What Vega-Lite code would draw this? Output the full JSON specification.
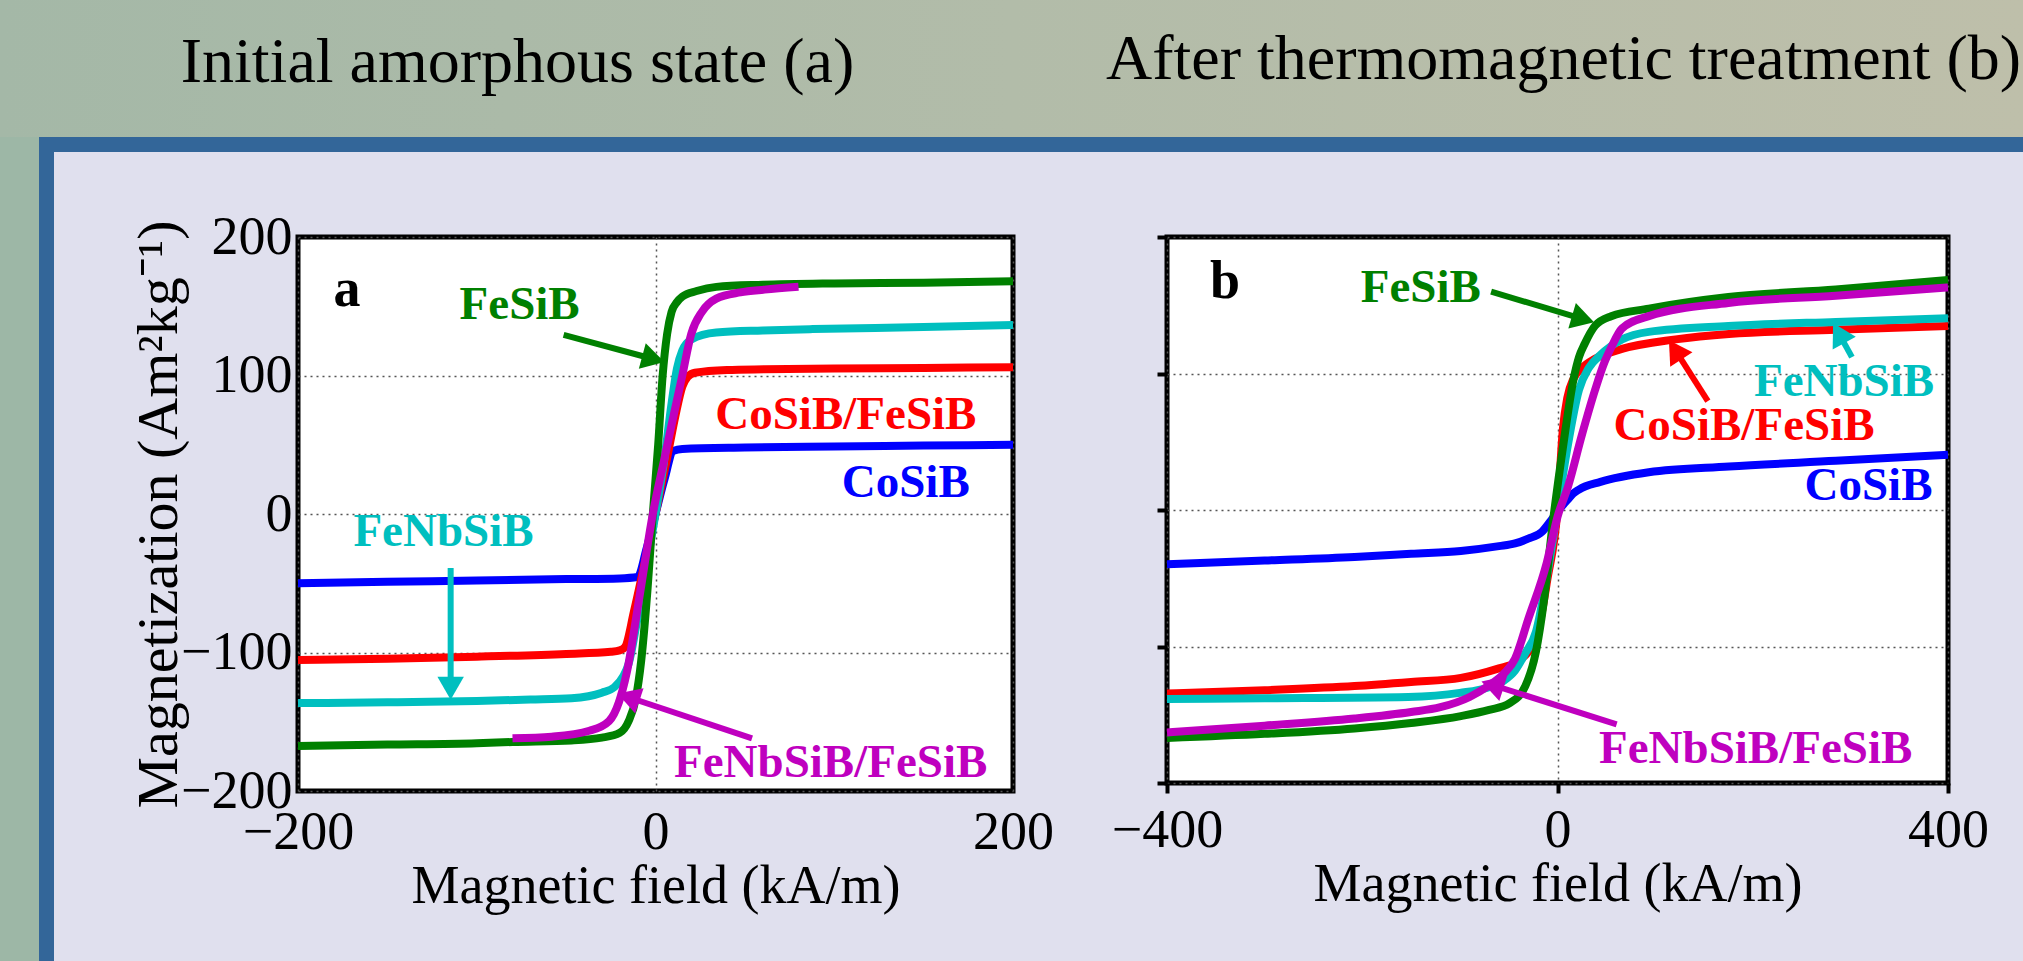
{
  "$schema": "https://vega.github.io/schema/vega-lite/v6.json",
  "padding": 0,
  "background": "#e0e0ee",
  "config": {
    "view": {"stroke": null},
    "font": "Liberation Serif",
    "axis": {"labelFont": "Liberation Serif", "titleFont": "Liberation Serif", "labelColor": "black", "titleColor": "black", "titleFontWeight": "normal", "labelFontSize": 54, "titleFontSize": 54, "domain": false, "gridColor": "#555555", "gridDash": [2, 4], "gridWidth": 1.5, "gridOpacity": 1, "labelFlush": false, "labelOverlap": false}
  },
  "datasets": {
    "curvesA": [
      {"s":"CoSiB","H":-200,"M":-50},{"s":"CoSiB","H":-150,"M":-49},{"s":"CoSiB","H":-100,"M":-48},{"s":"CoSiB","H":-50,"M":-47},{"s":"CoSiB","H":-20,"M":-46.5},{"s":"CoSiB","H":-10,"M":-45.5},{"s":"CoSiB","H":-5,"M":-25},{"s":"CoSiB","H":0,"M":0},{"s":"CoSiB","H":5,"M":25},{"s":"CoSiB","H":10,"M":45.5},{"s":"CoSiB","H":15,"M":47},{"s":"CoSiB","H":50,"M":48},{"s":"CoSiB","H":100,"M":48.8},{"s":"CoSiB","H":150,"M":49.4},{"s":"CoSiB","H":200,"M":50},
      {"s":"CoSiB/FeSiB","H":-200,"M":-105.5},{"s":"CoSiB/FeSiB","H":-150,"M":-104.5},{"s":"CoSiB/FeSiB","H":-100,"M":-103},{"s":"CoSiB/FeSiB","H":-50,"M":-101},{"s":"CoSiB/FeSiB","H":-25,"M":-99.5},{"s":"CoSiB/FeSiB","H":-20,"M":-98.5},{"s":"CoSiB/FeSiB","H":-17,"M":-96},{"s":"CoSiB/FeSiB","H":-12,"M":-70},{"s":"CoSiB/FeSiB","H":-6,"M":-35},{"s":"CoSiB/FeSiB","H":0,"M":0},{"s":"CoSiB/FeSiB","H":6,"M":37},{"s":"CoSiB/FeSiB","H":11,"M":70},{"s":"CoSiB/FeSiB","H":15,"M":92},{"s":"CoSiB/FeSiB","H":18,"M":99},{"s":"CoSiB/FeSiB","H":22,"M":102},{"s":"CoSiB/FeSiB","H":40,"M":104},{"s":"CoSiB/FeSiB","H":61,"M":104.5},{"s":"CoSiB/FeSiB","H":100,"M":105},{"s":"CoSiB/FeSiB","H":150,"M":105.5},{"s":"CoSiB/FeSiB","H":200,"M":106},
      {"s":"FeNbSiB","H":-200,"M":-136.5},{"s":"FeNbSiB","H":-150,"M":-136},{"s":"FeNbSiB","H":-100,"M":-135},{"s":"FeNbSiB","H":-70,"M":-134},{"s":"FeNbSiB","H":-47,"M":-133},{"s":"FeNbSiB","H":-30,"M":-129},{"s":"FeNbSiB","H":-23,"M":-125},{"s":"FeNbSiB","H":-18,"M":-117},{"s":"FeNbSiB","H":-15,"M":-108},{"s":"FeNbSiB","H":-10,"M":-75},{"s":"FeNbSiB","H":-5,"M":-37},{"s":"FeNbSiB","H":0,"M":0},{"s":"FeNbSiB","H":5,"M":40},{"s":"FeNbSiB","H":9,"M":80},{"s":"FeNbSiB","H":12,"M":105},{"s":"FeNbSiB","H":15,"M":118},{"s":"FeNbSiB","H":20,"M":126},{"s":"FeNbSiB","H":34,"M":131},{"s":"FeNbSiB","H":60,"M":132.5},{"s":"FeNbSiB","H":88,"M":133.5},{"s":"FeNbSiB","H":150,"M":135},{"s":"FeNbSiB","H":200,"M":136.5},
      {"s":"FeSiB","H":-200,"M":-167.5},{"s":"FeSiB","H":-150,"M":-166.5},{"s":"FeSiB","H":-100,"M":-165.5},{"s":"FeSiB","H":-80,"M":-164.6},{"s":"FeSiB","H":-47,"M":-163.5},{"s":"FeSiB","H":-30,"M":-161.5},{"s":"FeSiB","H":-20,"M":-158},{"s":"FeSiB","H":-15,"M":-149.5},{"s":"FeSiB","H":-11,"M":-133},{"s":"FeSiB","H":-8,"M":-106},{"s":"FeSiB","H":-4.5,"M":-55},{"s":"FeSiB","H":-1.5,"M":0},{"s":"FeSiB","H":1.5,"M":50},{"s":"FeSiB","H":4,"M":100},{"s":"FeSiB","H":6.5,"M":130},{"s":"FeSiB","H":9,"M":146},{"s":"FeSiB","H":12,"M":153},{"s":"FeSiB","H":15,"M":157},{"s":"FeSiB","H":23,"M":161},{"s":"FeSiB","H":34,"M":164},{"s":"FeSiB","H":60,"M":165.5},{"s":"FeSiB","H":100,"M":166.5},{"s":"FeSiB","H":150,"M":167},{"s":"FeSiB","H":200,"M":168},
      {"s":"FeNbSiB/FeSiB","H":-80,"M":-162},{"s":"FeNbSiB/FeSiB","H":-58,"M":-160.8},{"s":"FeNbSiB/FeSiB","H":-37,"M":-156.5},{"s":"FeNbSiB/FeSiB","H":-26,"M":-149.5},{"s":"FeNbSiB/FeSiB","H":-20.5,"M":-136},{"s":"FeNbSiB/FeSiB","H":-16,"M":-114},{"s":"FeNbSiB/FeSiB","H":-9,"M":-60},{"s":"FeNbSiB/FeSiB","H":-1.5,"M":0},{"s":"FeNbSiB/FeSiB","H":5,"M":40},{"s":"FeNbSiB/FeSiB","H":9.6,"M":68},{"s":"FeNbSiB/FeSiB","H":15,"M":100},{"s":"FeNbSiB/FeSiB","H":20,"M":130},{"s":"FeNbSiB/FeSiB","H":26,"M":146},{"s":"FeNbSiB/FeSiB","H":34,"M":155.5},{"s":"FeNbSiB/FeSiB","H":47.5,"M":160},{"s":"FeNbSiB/FeSiB","H":61,"M":162},{"s":"FeNbSiB/FeSiB","H":80,"M":164}
    ],
    "curvesB": [
      {"s":"CoSiB","H":-400,"M":-39.7},{"s":"CoSiB","H":-300,"M":-37},{"s":"CoSiB","H":-208,"M":-34.4},{"s":"CoSiB","H":-150,"M":-32},{"s":"CoSiB","H":-99,"M":-30},{"s":"CoSiB","H":-60,"M":-26.5},{"s":"CoSiB","H":-43.5,"M":-24.5},{"s":"CoSiB","H":-30,"M":-21},{"s":"CoSiB","H":-16,"M":-16},{"s":"CoSiB","H":-8,"M":-9},{"s":"CoSiB","H":0,"M":-1},{"s":"CoSiB","H":6,"M":4},{"s":"CoSiB","H":11,"M":8},{"s":"CoSiB","H":16,"M":12},{"s":"CoSiB","H":22,"M":15},{"s":"CoSiB","H":44,"M":20.6},{"s":"CoSiB","H":93.5,"M":27.6},{"s":"CoSiB","H":175.6,"M":31.8},{"s":"CoSiB","H":285,"M":36},{"s":"CoSiB","H":400,"M":40.5},
      {"s":"CoSiB/FeSiB","H":-400,"M":-134.5},{"s":"CoSiB/FeSiB","H":-300,"M":-132},{"s":"CoSiB/FeSiB","H":-208,"M":-129},{"s":"CoSiB/FeSiB","H":-150,"M":-126},{"s":"CoSiB/FeSiB","H":-99,"M":-123},{"s":"CoSiB/FeSiB","H":-60,"M":-116},{"s":"CoSiB/FeSiB","H":-43.5,"M":-112},{"s":"CoSiB/FeSiB","H":-30,"M":-104},{"s":"CoSiB/FeSiB","H":-22,"M":-95},{"s":"CoSiB/FeSiB","H":-16,"M":-75},{"s":"CoSiB/FeSiB","H":-10.8,"M":-52.7},{"s":"CoSiB/FeSiB","H":0,"M":0},{"s":"CoSiB/FeSiB","H":5.6,"M":60},{"s":"CoSiB/FeSiB","H":10,"M":82},{"s":"CoSiB/FeSiB","H":16.7,"M":96.7},{"s":"CoSiB/FeSiB","H":25,"M":104},{"s":"CoSiB/FeSiB","H":38.5,"M":110.8},{"s":"CoSiB/FeSiB","H":66,"M":118},{"s":"CoSiB/FeSiB","H":121,"M":125},{"s":"CoSiB/FeSiB","H":175.6,"M":129},{"s":"CoSiB/FeSiB","H":285,"M":132},{"s":"CoSiB/FeSiB","H":400,"M":134.8},
      {"s":"FeNbSiB","H":-400,"M":-138.5},{"s":"FeNbSiB","H":-300,"M":-138},{"s":"FeNbSiB","H":-153,"M":-137},{"s":"FeNbSiB","H":-100,"M":-134},{"s":"FeNbSiB","H":-71,"M":-130},{"s":"FeNbSiB","H":-55,"M":-125},{"s":"FeNbSiB","H":-43.5,"M":-117.6},{"s":"FeNbSiB","H":-33,"M":-105},{"s":"FeNbSiB","H":-22,"M":-89},{"s":"FeNbSiB","H":-10,"M":-45},{"s":"FeNbSiB","H":0,"M":0},{"s":"FeNbSiB","H":10,"M":45},{"s":"FeNbSiB","H":22,"M":88},{"s":"FeNbSiB","H":32,"M":104},{"s":"FeNbSiB","H":44,"M":113.6},{"s":"FeNbSiB","H":66,"M":124.9},{"s":"FeNbSiB","H":93.5,"M":130.5},{"s":"FeNbSiB","H":175,"M":134.8},{"s":"FeNbSiB","H":285,"M":137.8},{"s":"FeNbSiB","H":400,"M":140.4},
      {"s":"FeSiB","H":-400,"M":-167},{"s":"FeSiB","H":-300,"M":-164},{"s":"FeSiB","H":-208,"M":-160},{"s":"FeSiB","H":-150,"M":-156},{"s":"FeSiB","H":-99,"M":-151},{"s":"FeSiB","H":-70,"M":-146.5},{"s":"FeSiB","H":-49,"M":-141.5},{"s":"FeSiB","H":-33,"M":-129},{"s":"FeSiB","H":-22,"M":-103.5},{"s":"FeSiB","H":-14,"M":-67},{"s":"FeSiB","H":-5,"M":-10.5},{"s":"FeSiB","H":5.6,"M":46},{"s":"FeSiB","H":16.7,"M":96.7},{"s":"FeSiB","H":22,"M":112},{"s":"FeSiB","H":28,"M":122},{"s":"FeSiB","H":38.5,"M":135},{"s":"FeSiB","H":55,"M":142},{"s":"FeSiB","H":93.5,"M":147.5},{"s":"FeSiB","H":175,"M":156},{"s":"FeSiB","H":285,"M":161.5},{"s":"FeSiB","H":400,"M":168.5},
      {"s":"FeNbSiB/FeSiB","H":-400,"M":-163},{"s":"FeNbSiB/FeSiB","H":-300,"M":-158},{"s":"FeNbSiB/FeSiB","H":-208,"M":-152.8},{"s":"FeNbSiB/FeSiB","H":-150,"M":-148},{"s":"FeNbSiB/FeSiB","H":-120,"M":-144.5},{"s":"FeNbSiB/FeSiB","H":-90,"M":-137},{"s":"FeNbSiB/FeSiB","H":-71,"M":-129},{"s":"FeNbSiB/FeSiB","H":-55,"M":-120},{"s":"FeNbSiB/FeSiB","H":-43.5,"M":-109},{"s":"FeNbSiB/FeSiB","H":-30,"M":-80},{"s":"FeNbSiB/FeSiB","H":-11,"M":-38.6},{"s":"FeNbSiB/FeSiB","H":0,"M":-5},{"s":"FeNbSiB/FeSiB","H":11,"M":17.7},{"s":"FeNbSiB/FeSiB","H":25,"M":55},{"s":"FeNbSiB/FeSiB","H":38.5,"M":88},{"s":"FeNbSiB/FeSiB","H":48,"M":108},{"s":"FeNbSiB/FeSiB","H":55,"M":119},{"s":"FeNbSiB/FeSiB","H":66,"M":133},{"s":"FeNbSiB/FeSiB","H":93.5,"M":142},{"s":"FeNbSiB/FeSiB","H":175,"M":151.7},{"s":"FeNbSiB/FeSiB","H":285,"M":157},{"s":"FeNbSiB/FeSiB","H":400,"M":163}
    ],
    "labelsA": [
      {"s":"FeSiB","t":"FeSiB","H":-76,"M":151},
      {"s":"CoSiB/FeSiB","t":"CoSiB/FeSiB","H":106.5,"M":71.5},
      {"s":"CoSiB","t":"CoSiB","H":140,"M":22.4},
      {"s":"FeNbSiB","t":"FeNbSiB","H":-118.6,"M":-13},
      {"s":"FeNbSiB/FeSiB","t":"FeNbSiB/FeSiB","H":98,"M":-180}
    ],
    "labelsB": [
      {"s":"FeSiB","t":"FeSiB","H":-140,"M":163},
      {"s":"FeNbSiB","t":"FeNbSiB","H":293.5,"M":93.9},
      {"s":"CoSiB/FeSiB","t":"CoSiB/FeSiB","H":191,"M":61.4},
      {"s":"CoSiB","t":"CoSiB","H":318.6,"M":17.7},
      {"s":"FeNbSiB/FeSiB","t":"FeNbSiB/FeSiB","H":203,"M":-175}
    ],
    "arrowsA": [
      {"s":"FeSiB","H":-51.4,"M":129.4,"H2":-1.2,"M2":111.9},
      {"s":"FeNbSiB","H":-114.6,"M":-39,"H2":-114.6,"M2":-125.8},
      {"s":"FeNbSiB/FeSiB","H":54,"M":-162,"H2":-15.1,"M2":-132.3}
    ],
    "arrowsB": [
      {"s":"FeSiB","H":-68,"M":160,"H2":26.2,"M2":139.9},
      {"s":"FeNbSiB","H":301.6,"M":112,"H2":288,"M2":129.6},
      {"s":"CoSiB/FeSiB","H":154,"M":79.8,"H2":120.5,"M2":117.3},
      {"s":"FeNbSiB/FeSiB","H":60.6,"M":-157,"H2":-66.7,"M2":-128.2}
    ]
  },
  "vconcat": [
    {
      "width": 2023, "height": 137,
      "data": {"values": [{"part": "header"}]},
      "mark": {"type": "rect", "color": {"gradient": "linear", "x1": 0, "y1": 0, "x2": 1, "y2": 0, "stops": [{"offset": 0, "color": "#a4b8a7"}, {"offset": 0.5, "color": "#b2bca9"}, {"offset": 1, "color": "#bebfaa"}]}},
      "encoding": {}
    },
    {
      "hconcat": [
        {"width": 39, "height": 824, "data": {"values": [{"part": "left"}]}, "mark": {"type": "rect", "color": "#9db7a6"}, "encoding": {}},
        {"width": 15, "height": 824, "data": {"values": [{"part": "frame"}]}, "mark": {"type": "rect", "color": "#336699"}, "encoding": {}},
        {
          "vconcat": [
            {"width": 1969, "height": 15, "data": {"values": [{"part": "frame"}]}, "mark": {"type": "rect", "color": "#336699"}, "encoding": {}},
            {"width": 1969, "height": 85, "data": {"values": [{"part": "gap"}]}, "mark": {"type": "rect", "opacity": 0}, "encoding": {}},
            {
              "hconcat": [
                {"width": 90, "height": 554, "data": {"values": [{"part": "gap"}]}, "mark": {"type": "rect", "opacity": 0}, "encoding": {}},
                {
                  "width": 715, "height": 554,
                  "view": {"stroke": "black", "strokeWidth": 5, "fill": "white"},
                  "title": {"text": "Initial amorphous state (a)", "anchor": "middle", "frame": "group", "dx": -138, "offset": 64, "baseline": "alphabetic", "fontSize": 64, "font": "Liberation Serif", "fontWeight": "normal", "color": "black"},
                  "encoding": {
                    "x": {"field": "H", "type": "quantitative", "scale": {"domain": [-200, 200], "nice": false, "zero": false}, "axis": {"title": "Magnetic field (kA/m)", "values": [-200, 0, 200], "grid": true, "ticks": false, "labelPadding": 14, "titlePadding": 0}},
                    "y": {"field": "M", "type": "quantitative", "scale": {"domain": [-200, 200], "nice": false, "zero": false}, "axis": {"title": "Magnetization (Am²kg⁻¹)", "titleFontSize": 58, "values": [-200, -100, 0, 100, 200], "grid": true, "ticks": false, "labelPadding": 6, "titlePadding": -8}}
                  },
                  "layer": [
                    {
                      "data": {"name": "curvesA"},
                      "mark": {"type": "line", "strokeWidth": 8, "interpolate": "monotone"},
                      "encoding": {"color": {"field": "s", "type": "nominal", "legend": null, "scale": {"domain": ["CoSiB", "CoSiB/FeSiB", "FeNbSiB", "FeSiB", "FeNbSiB/FeSiB"], "range": ["#0000ff", "#ff0000", "#00bfbf", "#008000", "#bf00bf"]}}}
                    },
                    {
                      "data": {"name": "arrowsA"},
                      "mark": {"type": "rule", "strokeWidth": 6},
                      "encoding": {"x2": {"field": "H2"}, "y2": {"field": "M2"}, "color": {"field": "s", "type": "nominal", "legend": null}}
                    },
                    {
                      "data": {"name": "arrowsA"},
                      "transform": [{"calculate": "atan2((datum.H2-datum.H)*1.7875, (datum.M2-datum.M)*1.385)*180/PI", "as": "ang"}],
                      "mark": {"type": "point", "shape": "triangle-up", "filled": true, "opacity": 1, "size": 700},
                      "encoding": {"x": {"field": "H2", "type": "quantitative"}, "y": {"field": "M2", "type": "quantitative"}, "angle": {"field": "ang", "type": "quantitative", "scale": null}, "color": {"field": "s", "type": "nominal", "legend": null}}
                    },
                    {
                      "data": {"name": "labelsA"},
                      "mark": {"type": "text", "font": "Liberation Serif", "fontWeight": "bold", "fontSize": 47, "align": "center", "baseline": "middle"},
                      "encoding": {"text": {"field": "t"}, "color": {"field": "s", "type": "nominal", "legend": null}}
                    },
                    {
                      "data": {"values": [{"t": "a", "H": -172.6, "M": 162}]},
                      "mark": {"type": "text", "font": "Liberation Serif", "fontWeight": "bold", "fontSize": 54, "align": "center", "baseline": "middle", "color": "black"},
                      "encoding": {"text": {"field": "t"}}
                    }
                  ]
                },
                {
                  "width": 781, "height": 546,
                  "view": {"stroke": "black", "strokeWidth": 5, "fill": "white"},
                  "title": {"text": "After thermomagnetic treatment (b)", "anchor": "middle", "frame": "group", "dx": 6, "offset": 92, "baseline": "alphabetic", "fontSize": 64, "font": "Liberation Serif", "fontWeight": "normal", "color": "black"},
                  "encoding": {
                    "x": {"field": "H", "type": "quantitative", "scale": {"domain": [-400, 400], "nice": false, "zero": false}, "axis": {"title": "Magnetic field (kA/m)", "values": [-400, 0, 400], "grid": true, "ticks": true, "tickSize": 10, "tickWidth": 4, "tickColor": "black", "labelPadding": 10, "titlePadding": 0}},
                    "y": {"field": "M", "type": "quantitative", "scale": {"domain": [-200, 200], "nice": false, "zero": false}, "axis": {"title": null, "values": [-200, -100, 0, 100, 200], "grid": true, "labels": false, "ticks": true, "tickSize": 10, "tickWidth": 4, "tickColor": "black"}}
                  },
                  "layer": [
                    {
                      "data": {"name": "curvesB"},
                      "mark": {"type": "line", "strokeWidth": 8, "interpolate": "monotone"},
                      "encoding": {"color": {"field": "s", "type": "nominal", "legend": null, "scale": {"domain": ["CoSiB", "CoSiB/FeSiB", "FeNbSiB", "FeSiB", "FeNbSiB/FeSiB"], "range": ["#0000ff", "#ff0000", "#00bfbf", "#008000", "#bf00bf"]}}}
                    },
                    {
                      "data": {"name": "arrowsB"},
                      "mark": {"type": "rule", "strokeWidth": 6},
                      "encoding": {"x2": {"field": "H2"}, "y2": {"field": "M2"}, "color": {"field": "s", "type": "nominal", "legend": null}}
                    },
                    {
                      "data": {"name": "arrowsB"},
                      "transform": [{"calculate": "atan2((datum.H2-datum.H)*0.97625, (datum.M2-datum.M)*1.3575)*180/PI", "as": "ang"}],
                      "mark": {"type": "point", "shape": "triangle-up", "filled": true, "opacity": 1, "size": 700},
                      "encoding": {"x": {"field": "H2", "type": "quantitative"}, "y": {"field": "M2", "type": "quantitative"}, "angle": {"field": "ang", "type": "quantitative", "scale": null}, "color": {"field": "s", "type": "nominal", "legend": null}}
                    },
                    {
                      "data": {"name": "labelsB"},
                      "mark": {"type": "text", "font": "Liberation Serif", "fontWeight": "bold", "fontSize": 47, "align": "center", "baseline": "middle"},
                      "encoding": {"text": {"field": "t"}, "color": {"field": "s", "type": "nominal", "legend": null}}
                    },
                    {
                      "data": {"values": [{"t": "b", "H": -340.6, "M": 167}]},
                      "mark": {"type": "text", "font": "Liberation Serif", "fontWeight": "bold", "fontSize": 54, "align": "center", "baseline": "middle", "color": "black"},
                      "encoding": {"text": {"field": "t"}}
                    }
                  ]
                }
              ],
              "spacing": 154, "bounds": "flush"
            }
          ],
          "spacing": 0, "bounds": "flush"
        }
      ],
      "spacing": 0, "bounds": "flush"
    }
  ],
  "spacing": 0, "bounds": "flush"
}
